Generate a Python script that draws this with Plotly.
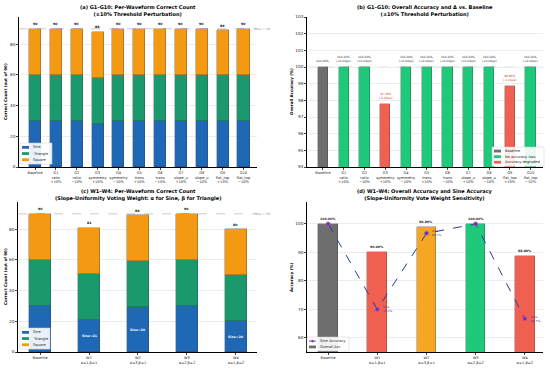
import plotly.graph_objects as go

# ---------------- data ----------------
cats_a = ["Baseline", "G1", "G2", "G3", "G4", "G5", "G6", "G7", "G8", "G9", "G10"]
param_a = ["", "ratio", "ratio", "symmetry", "symmetry", "trans", "trans",
           "slope_u", "slope_u", "flat_top", "flat_top"]
pert_a = ["", "+10%", "−10%", "+10%", "−10%", "+10%", "−10%", "+10%", "−10%", "+10%", "−10%"]
sine_a = [30, 30, 30, 28, 30, 30, 30, 30, 30, 30, 30]
tri_a = [30, 30, 30, 30, 30, 30, 30, 30, 30, 30, 30]
square_a = [30, 30, 30, 30, 30, 30, 30, 30, 30, 29, 30]

acc_b = [100.00, 100.00, 100.00, 97.78, 100.00, 100.00, 100.00, 100.00, 100.00, 98.89, 100.00]

cats_c = ["Baseline", "W1", "W2", "W3", "W4"]
weights_c = ["", "α=1,β=1", "α=3,β=1", "α=2,β=2", "α=1,β=2"]
sine_c = [30, 21, 29, 30, 20]
tri_c = [30, 30, 30, 30, 30]
square_c = [30, 30, 30, 30, 30]

acc_d = [100.00, 90.00, 98.89, 100.00, 88.89]
sine_acc_d = [100.0, 70.0, 96.7, 100.0, 66.7]

MAX_COUNT = 90

# ---------------- style ----------------
FONT = "DejaVu Sans"
C_SINE = "#1f68b5"
C_TRI = "#1a9a6c"
C_SQ = "#f39a12"
C_BASE = "#6e6e6e"
C_OK = "#1fc97a"
C_BAD = "#f06050"
C_MID = "#f5a623"
C_LINE = "#2b3a9c"
TICK = 3.6
TITLE = 5.0

W, H = 550, 368
def px_x(a, b):
    return [a / W, b / W]
def px_y(top, bottom):
    return [1 - bottom / H, 1 - top / H]

fig = go.Figure()

def ticks_a():
    return [c if not p else f"{c}<br>{p}<br>{q}" for c, p, q in zip(cats_a, param_a, pert_a)]
def ticks_c():
    return [c if not w else f"{c}<br>{w}" for c, w in zip(cats_c, weights_c)]

EDGE = dict(width=0.3, color="#333")

# ---- panel (a) ----
series_a = [("Sine", sine_a, C_SINE), ("Triangle", tri_a, C_TRI), ("Square", square_a, C_SQ)]
for name, vals, col in series_a:
    fig.add_trace(go.Bar(x=cats_a, y=vals, name=name, marker=dict(color=col, line=EDGE),
                         width=0.58, xaxis="x", yaxis="y"))
tot_a = [a + b + c for a, b, c in zip(sine_a, tri_a, square_a)]

# ---- panel (b) ----
fig.add_trace(go.Bar(x=[cats_a[0]], y=[acc_b[0]], name="Baseline", marker=dict(color=C_BASE, line=EDGE),
                     width=0.5, xaxis="x2", yaxis="y2"))
ok_x = [c for c, v in zip(cats_a[1:], acc_b[1:]) if v >= acc_b[0]]
ok_y = [v for v in acc_b[1:] if v >= acc_b[0]]
bad_x = [c for c, v in zip(cats_a[1:], acc_b[1:]) if v < acc_b[0]]
bad_y = [v for v in acc_b[1:] if v < acc_b[0]]
fig.add_trace(go.Bar(x=ok_x, y=ok_y, name="No accuracy loss", marker=dict(color=C_OK, line=EDGE),
                     width=0.5, xaxis="x2", yaxis="y2"))
fig.add_trace(go.Bar(x=bad_x, y=bad_y, name="Accuracy degraded", marker=dict(color=C_BAD, line=EDGE),
                     width=0.5, xaxis="x2", yaxis="y2"))

# ---- panel (c) ----
series_c = [("Sine", sine_c, C_SINE), ("Triangle", tri_c, C_TRI), ("Square", square_c, C_SQ)]
for name, vals, col in series_c:
    fig.add_trace(go.Bar(x=cats_c, y=vals, name=name, marker=dict(color=col, line=EDGE),
                         width=0.45, xaxis="x3", yaxis="y3"))
tot_c = [a + b + c for a, b, c in zip(sine_c, tri_c, square_c)]

# ---- panel (d) ----
cols_d = [C_BASE, C_BAD, C_MID, C_OK, C_BAD]
fig.add_trace(go.Bar(x=cats_c, y=acc_d, name="Overall Acc.", marker=dict(color=cols_d, line=EDGE),
                     width=0.4, xaxis="x4", yaxis="y4"))
fig.add_trace(go.Scatter(x=cats_c, y=sine_acc_d, name="Sine Accuracy", mode="lines+markers",
                         line=dict(color=C_LINE, width=1, dash="dash"),
                         marker=dict(size=4, color="#3a46b0", line=dict(color="#e040c0", width=0.8)),
                         xaxis="x4", yaxis="y4"))

ann = []
shapes = []

def title(x, y, txt):
    ann.append(dict(text=txt, x=x / W, y=1 - y / H, xref="paper", yref="paper", showarrow=False,
                    xanchor="center", yanchor="top", font=dict(family=FONT, size=TITLE, color="black")))
title(138, 2, "<b>(a) G1–G10: Per-Waveform Correct Count</b><br><b>(±10% Threshold Perturbation)</b>")
title(425, 2, "<b>(b) G1–G10: Overall Accuracy and Δ vs. Baseline</b><br><b>(±10% Threshold Perturbation)</b>")
title(138, 186, "<b>(c) W1–W4: Per-Waveform Correct Count</b><br><b>(Slope-Uniformity Voting Weight: α for Sine, β for Triangle)</b>")
title(425, 186, "<b>(d) W1–W4: Overall Accuracy and Sine Accuracy</b><br><b>(Slope-Uniformity Vote Weight Sensitivity)</b>")

def ylab(x, y, txt):
    ann.append(dict(text=f"<b>{txt}</b>", x=x / W, y=1 - y / H, xref="paper", yref="paper", showarrow=False,
                    textangle=-90, xanchor="center", yanchor="middle", font=dict(family=FONT, size=4, color="black")))
ylab(5, 92, "Correct Count (out of 90)")
ylab(291, 92, "Overall Accuracy (%)")
ylab(5, 277, "Correct Count (out of 90)")
ylab(291, 277, "Accuracy (%)")

# totals (a)
for c, t in zip(cats_a, tot_a):
    ann.append(dict(text=f"<b>{t}</b>", x=c, y=t, xref="x", yref="y", showarrow=False, yanchor="bottom", yshift=0.5,
                    font=dict(family=FONT, size=3.2, color="black")))
ann.append(dict(text=f"Max = {MAX_COUNT}", x=0.985, y=MAX_COUNT, xref="x domain", yref="y", showarrow=False,
                xanchor="left", yanchor="middle", font=dict(family=FONT, size=3.2, color="#999")))
# labels (b)
for i, (c, v) in enumerate(zip(cats_a, acc_b)):
    d = v - acc_b[0]
    txt = f"{v:.2f}%" if i == 0 else f"{v:.2f}%<br>({d:+.2f}pp)"
    colr = "#333" if d >= 0 else "#c0392b"
    ann.append(dict(text=txt, x=c, y=v, xref="x2", yref="y2", showarrow=False, yanchor="bottom", yshift=2,
                    font=dict(family=FONT, size=2.9, color=colr)))
# totals (c)
for c, t in zip(cats_c, tot_c):
    ann.append(dict(text=f"<b>{t}</b>", x=c, y=t, xref="x3", yref="y3", showarrow=False, yanchor="bottom", yshift=0.5,
                    font=dict(family=FONT, size=3.2, color="black")))
for c, s in zip(cats_c, sine_c):
    if s != sine_c[0]:
        ann.append(dict(text=f"<b>Sine={s}</b>", x=c, y=s / 2, xref="x3", yref="y3", showarrow=False,
                        font=dict(family=FONT, size=3.2, color="white")))
ann.append(dict(text=f"Max = {MAX_COUNT}", x=0.985, y=MAX_COUNT, xref="x3 domain", yref="y3", showarrow=False,
                xanchor="left", yanchor="middle", font=dict(family=FONT, size=3.2, color="#999")))
# labels (d)
for c, v in zip(cats_c, acc_d):
    ann.append(dict(text=f"<b>{v:.2f}%</b>", x=c, y=v, xref="x4", yref="y4", showarrow=False, yanchor="bottom", yshift=1,
                    font=dict(family=FONT, size=3.2, color="#222")))
for c, s in zip(cats_c, sine_acc_d):
    if s < 100:
        ann.append(dict(text=f"Sine<br>{s:.1f}%", x=c, y=s, xref="x4", yref="y4", showarrow=False,
                        xanchor="left", yanchor="middle", xshift=4, align="left",
                        font=dict(family=FONT, size=2.9, color="#4a2ca0")))

shapes += [
    dict(type="line", xref="x domain", yref="y", x0=0, x1=1, y0=MAX_COUNT, y1=MAX_COUNT,
         line=dict(color="#aaa", width=0.6, dash="dash"), layer="below"),
    dict(type="line", xref="x3 domain", yref="y3", x0=0, x1=1, y0=MAX_COUNT, y1=MAX_COUNT,
         line=dict(color="#aaa", width=0.6, dash="dash"), layer="below"),
    dict(type="line", xref="x2 domain", yref="y2", x0=0, x1=1, y0=acc_b[0], y1=acc_b[0],
         line=dict(color="#bbb", width=0.5, dash="dash"), layer="below"),
]

# ---- hand-drawn compact legends (matplotlib-like) ----
def legend_box(x0, y0, w, entries, row=6.2):
    h = row * len(entries) + 2.5
    shapes.append(dict(type="rect", xref="paper", yref="paper", x0=x0 / W, x1=(x0 + w) / W,
                       y0=1 - (y0 + h) / H, y1=1 - y0 / H, fillcolor="rgba(255,255,255,0.9)",
                       line=dict(color="#ccc", width=0.5), layer="above"))
    for i, (label, kind, col) in enumerate(entries):
        cy = y0 + 1.25 + row * (i + 0.5)
        if kind == "patch":
            shapes.append(dict(type="rect", xref="paper", yref="paper", x0=(x0 + 2) / W, x1=(x0 + 9) / W,
                               y0=1 - (cy + 1.4) / H, y1=1 - (cy - 1.4) / H, fillcolor=col,
                               line=dict(width=0), layer="above"))
        else:
            shapes.append(dict(type="line", xref="paper", yref="paper", x0=(x0 + 2) / W, x1=(x0 + 9) / W,
                               y0=1 - cy / H, y1=1 - cy / H, line=dict(color=col, width=0.8, dash="dash"),
                               layer="above"))
            shapes.append(dict(type="circle", xref="paper", yref="paper", x0=(x0 + 4.4) / W, x1=(x0 + 6.6) / W,
                               y0=1 - (cy + 1.1) / H, y1=1 - (cy - 1.1) / H, fillcolor="#3a46b0",
                               line=dict(color="#e040c0", width=0.5), layer="above"))
        ann.append(dict(text=label, x=(x0 + 11) / W, y=1 - cy / H, xref="paper", yref="paper", showarrow=False,
                        xanchor="left", yanchor="middle", font=dict(family=FONT, size=3.6, color="#222")))

legend_box(20, 143, 32, [(n, "patch", c) for n, _, c in series_a])
legend_box(492, 147, 52, [("Baseline", "patch", C_BASE), ("No accuracy loss", "patch", C_OK),
                          ("Accuracy degraded", "patch", C_BAD)], row=5.6)
legend_box(20, 328, 30, [(n, "patch", c) for n, _, c in series_c])
legend_box(307, 337, 42, [("Sine Accuracy", "line", C_LINE), ("Overall Acc.", "patch", C_BASE)], row=5.8)

def xax(domain, anchor, ticktext, tickvals, rng):
    return dict(domain=domain, anchor=anchor, type="category", categoryorder="array", categoryarray=tickvals,
                tickvals=tickvals, ticktext=ticktext, range=rng, showline=True, linecolor="black", linewidth=0.6,
                ticks="outside", ticklen=2, tickwidth=0.5, tickangle=0, automargin=False,
                tickfont=dict(family=FONT, size=TICK, color="#222"),
                showgrid=False, zeroline=False)

def yax(domain, anchor, rng, dtick, grid=True):
    return dict(domain=domain, anchor=anchor, range=rng, dtick=dtick, showline=True, linecolor="black", linewidth=0.6,
                ticks="outside", ticklen=2, tickwidth=0.5, automargin=False,
                tickfont=dict(family=FONT, size=4.2, color="#222"),
                showgrid=grid, gridcolor="#ececec", gridwidth=0.5, zeroline=False)

fig.update_layout(
    width=W, height=H, margin=dict(l=0, r=0, t=0, b=0, pad=0),
    paper_bgcolor="white", plot_bgcolor="white", barmode="stack", bargap=0,
    font=dict(family=FONT), showlegend=False,
    xaxis=xax(px_x(19, 257), "y", ticks_a(), cats_a, [-0.77, 10.65]),
    yaxis=yax(px_y(17, 167), "x", [0, 97.7], 20),
    xaxis2=xax(px_x(307, 543), "y2", ticks_a(), cats_a, [-0.77, 10.6]),
    yaxis2=yax(px_y(17, 167), "x2", [94, 103], 1),
    xaxis3=xax(px_x(18, 257), "y3", ticks_c(), cats_c, [-0.45, 4.43]),
    yaxis3=yax(px_y(202, 352), "x3", [0, 97.7], 20),
    xaxis4=xax(px_x(307, 543), "y4", ticks_c(), cats_c, [-0.43, 4.37]),
    yaxis4=yax(px_y(202, 352), "x4", [55, 107.7], 10),
    annotations=ann, shapes=shapes,
)

fig.write_html("out.html", config={"displayModeBar": False},
               post_script="document.body.style.margin='0px';document.body.style.padding='0px';")
